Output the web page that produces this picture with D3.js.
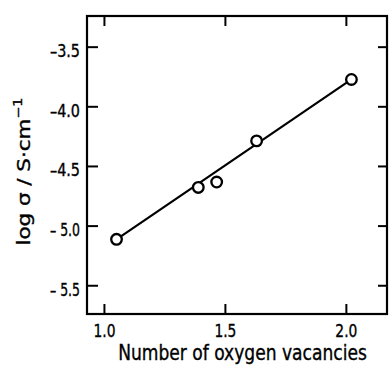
<!DOCTYPE html>
<html>
<head>
<meta charset="utf-8">
<script src="https://cdn.jsdelivr.net/npm/d3@7"></script>
<style>
  html, body { margin: 0; padding: 0; background: #fff; }
  svg { display: block; }
  text { font-family: "DejaVu Sans Condensed", "DejaVu Sans", sans-serif; font-stretch: condensed; fill: #000; stroke: #000; stroke-width: 0.35px; }
</style>
</head>
<body>
<svg id="chart" width="389" height="369"></svg>
<script>
// ---- data ----
const vacancies = [1.052, 1.390, 1.466, 1.631, 2.023];
const logSigma  = [-5.115, -4.68, -4.635, -4.29, -3.775];
const fitX = [1.052, 2.023];
const fitY = [-5.115, -3.775];
const xTicks = [1.0, 1.5, 2.0];
const xTickLabels = ["1.0", "1.5", "2.0"];
const yTicks = [-3.5, -4.0, -4.5, -5.0, -5.5];
const yTickLabels = ["–3.5", "–4.0", "–4.5", "– 5.0", "– 5.5"];
const xTitle = "Number of oxygen vacancies";

// ---- layout ----
const W = 389, H = 369;
const L = 87, R = 387, T = 16, B = 314;
const svg = d3.select("#chart");

const x = d3.scaleLinear().domain([0.93, 2.17]).range([L, R]);
const y = d3.scaleLinear().domain([-5.741, -3.243]).range([B, T]);

function styleAxis(g) {
  g.select(".domain").remove();
  g.selectAll(".tick line").attr("stroke", "#000").attr("stroke-width", 2);
}

// left axis with labels
const gl = svg.append("g").attr("transform", `translate(${L},0)`)
  .call(d3.axisLeft(y).tickValues(yTicks).tickSizeInner(-11).tickSizeOuter(0).tickPadding(7)
    .tickFormat((d, i) => yTickLabels[i]));
styleAxis(gl);
gl.selectAll(".tick text").attr("font-size", 18).attr("dy", "0.55em")
  .attr("textLength", 30).attr("lengthAdjust", "spacingAndGlyphs")
  .style("font-family", '"DejaVu Sans Condensed", "DejaVu Sans", sans-serif');

// right ticks
const gr = svg.append("g").attr("transform", `translate(${R},0)`)
  .call(d3.axisRight(y).tickValues(yTicks).tickSizeInner(-9).tickSizeOuter(0).tickFormat(""));
styleAxis(gr);

// bottom axis with labels
const gb = svg.append("g").attr("transform", `translate(0,${B})`)
  .call(d3.axisBottom(x).tickValues(xTicks).tickSizeInner(-10).tickSizeOuter(0).tickPadding(10)
    .tickFormat((d, i) => xTickLabels[i]));
styleAxis(gb);
gb.selectAll(".tick text").attr("font-size", 18.5)
  .attr("textLength", 22).attr("lengthAdjust", "spacingAndGlyphs")
  .style("font-family", '"DejaVu Sans Condensed", "DejaVu Sans", sans-serif');

// top ticks
const gt = svg.append("g").attr("transform", `translate(0,${T})`)
  .call(d3.axisTop(x).tickValues(xTicks).tickSizeInner(-10).tickSizeOuter(0).tickFormat(""));
styleAxis(gt);

// frame
svg.append("rect").attr("x", L).attr("y", T).attr("width", R - L).attr("height", B - T)
  .attr("fill", "none").attr("stroke", "#000").attr("stroke-width", 2.2);

// fit line
const line = d3.line().x(d => x(d[0])).y(d => y(d[1]));
svg.append("path").datum(fitX.map((v, i) => [v, fitY[i]]))
  .attr("d", line).attr("fill", "none").attr("stroke", "#000").attr("stroke-width", 2.2);

// points
svg.append("g").selectAll("circle").data(vacancies.map((v, i) => [v, logSigma[i]]))
  .join("circle").attr("cx", d => x(d[0])).attr("cy", d => y(d[1])).attr("r", 5.3)
  .attr("fill", "#fff").attr("stroke", "#000").attr("stroke-width", 2.3);

// x title
const xt = svg.append("text").attr("text-anchor", "middle").attr("font-size", 22).text(xTitle);
let bw = xt.node().getComputedTextLength();
xt.attr("transform", `translate(242.5,360) scale(${249 / bw},1)`);

// y title
const yt = svg.append("text").attr("text-anchor", "middle").attr("font-size", 18);
yt.append("tspan").text("log  σ  /  S·cm");
yt.append("tspan").attr("font-size", 12).attr("dy", -8).text("−1");
const yb = yt.node().getBBox();
const sx = 148 / yb.width;
yt.attr("transform", `translate(30,171.5) rotate(-90) scale(${sx},1)`);
</script>
</body>
</html>
